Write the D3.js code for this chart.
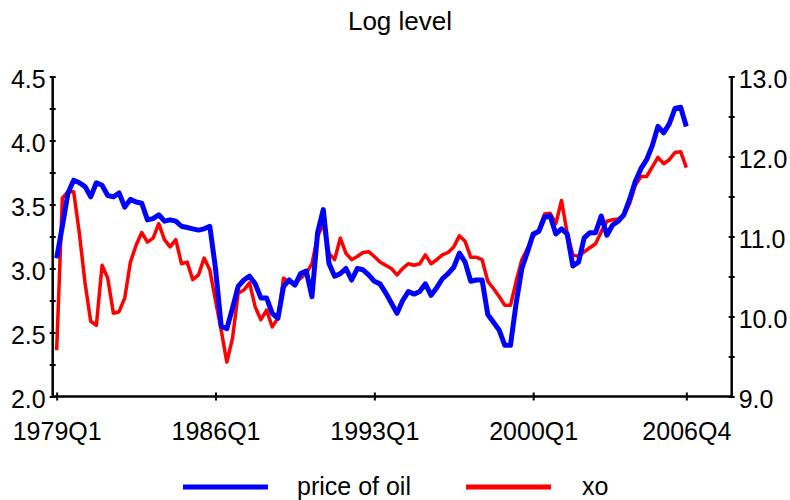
<!DOCTYPE html>
<html>
<head>
<meta charset="utf-8">
<script src="https://cdn.jsdelivr.net/npm/d3@7"></script>
<style>
  body { margin: 0; background: #fff; }
  text { font-family: "Liberation Sans", Arial, sans-serif; fill: #000; }
</style>
</head>
<body>
<div id="chart"></div>
<script>
// quarterly categories 1979Q1 .. 2006Q4
const quarters = [];
for (let y = 1979; y <= 2006; y++) for (let q = 1; q <= 4; q++) quarters.push(y + "Q" + q);

const tickLabels = ["1979Q1", "1986Q1", "1993Q1", "2000Q1", "2006Q4"];

// price of oil (left axis)
const oil = [
  3.08, 3.33, 3.59, 3.69, 3.67, 3.64, 3.56, 3.67, 3.65, 3.57,
  3.56, 3.59, 3.48, 3.54, 3.52, 3.51, 3.38, 3.39, 3.42, 3.37,
  3.38, 3.37, 3.33, 3.32, 3.31, 3.30, 3.31, 3.33, 3.00, 2.55,
  2.53, 2.69, 2.86, 2.91, 2.94, 2.88, 2.77, 2.77, 2.65, 2.61,
  2.86, 2.91, 2.87, 2.96, 2.98, 2.78, 3.28, 3.46, 3.04, 2.94,
  2.96, 3.00, 2.91, 3.00, 2.99, 2.95, 2.90, 2.88, 2.81, 2.73,
  2.65, 2.75, 2.82, 2.80, 2.82, 2.88, 2.79, 2.85, 2.92, 2.96,
  3.01, 3.12, 3.05, 2.90, 2.91, 2.91, 2.64, 2.58, 2.52, 2.40,
  2.40, 2.73, 3.00, 3.13, 3.27, 3.29, 3.40, 3.41, 3.27, 3.31,
  3.27, 3.02, 3.05, 3.24, 3.28, 3.28, 3.41, 3.26, 3.34, 3.37,
  3.42, 3.54, 3.68, 3.78, 3.85, 3.96, 4.11, 4.06, 4.13, 4.25,
  4.26, 4.11
];

// xo (right axis)
const xo = [
  9.58, 11.48, 11.56, 11.56, 11.04, 10.42, 9.94, 9.89, 10.64, 10.48,
  10.04, 10.06, 10.23, 10.68, 10.89, 11.05, 10.93, 10.98, 11.16, 10.96,
  10.87, 10.96, 10.66, 10.68, 10.46, 10.52, 10.73, 10.58, 10.20, 9.83,
  9.43, 9.73, 10.29, 10.33, 10.42, 10.12, 9.96, 10.08, 9.87, 9.98,
  10.48, 10.43, 10.42, 10.48, 10.54, 10.66, 11.00, 11.16, 10.79, 10.71,
  10.98, 10.79, 10.71, 10.75, 10.80, 10.81, 10.75, 10.68, 10.64, 10.60,
  10.52, 10.60, 10.66, 10.64, 10.66, 10.77, 10.66, 10.71, 10.77, 10.80,
  10.87, 11.01, 10.94, 10.74, 10.74, 10.71, 10.44, 10.35, 10.25, 10.14,
  10.14, 10.44, 10.71, 10.85, 11.00, 11.08, 11.28, 11.29, 11.16, 11.45,
  11.04, 10.77, 10.75, 10.81, 10.86, 10.91, 11.06, 11.19, 11.21, 11.22,
  11.27, 11.41, 11.64, 11.75, 11.75, 11.87, 11.99, 11.91, 11.96, 12.05,
  12.06, 11.86
];

const leftTicks = [2.0, 2.25, 2.5, 2.75, 3.0, 3.25, 3.5, 3.75, 4.0, 4.25, 4.5];
const rightTicks = [9.0, 9.5, 10.0, 10.5, 11.0, 11.5, 12.0, 12.5, 13.0];
const seriesNames = ["price of oil", "xo"];
const seriesColors = ["#0000ff", "#ff0000"];

const width = 790, height = 500;
const plotLeft = 52.7, plotRight = 731.7, plotTop = 76.5, plotBottom = 396.5;

const svg = d3.select("#chart").append("svg")
  .attr("width", width)
  .attr("height", height);

// x runs a bit past the last quarter, as in the original
const x = d3.scaleLinear().domain([-0.7, 119]).range([plotLeft, plotRight]);
const yL = d3.scaleLinear().domain([2, 4.5]).range([plotBottom, plotTop]);
const yR = d3.scaleLinear().domain([9, 13]).range([plotBottom, plotTop]);

svg.append("text")
  .attr("x", 400).attr("y", 30)
  .attr("text-anchor", "middle")
  .style("font-size", "26px")
  .text("Log level");

// Left axis
const gL = svg.append("g")
  .attr("transform", "translate(" + plotLeft + ",0)")
  .call(d3.axisLeft(yL).tickValues(leftTicks).tickSize(3)
    .tickFormat(d => (Math.round(d * 4) % 2 === 0) ? d3.format(".1f")(d) : ""));

// Right axis
const gR = svg.append("g")
  .attr("transform", "translate(" + plotRight + ",0)")
  .call(d3.axisRight(yR).tickValues(rightTicks).tickSize(3)
    .tickFormat(d => Number.isInteger(d) ? d3.format(".1f")(d) : ""));

// Bottom axis
const tickIdx = tickLabels.map(t => quarters.indexOf(t));
const gB = svg.append("g")
  .attr("transform", "translate(0," + plotBottom + ")")
  .call(d3.axisBottom(x).tickValues(tickIdx).tickSize(4)
    .tickFormat(d => quarters[d]));

[gL, gR].forEach(g => {
  g.select(".domain").attr("d", "M0," + plotTop + "V" + plotBottom)
    .attr("stroke", "#000").attr("stroke-width", 2.5);
  g.selectAll(".tick line").attr("x1", -3).attr("x2", 3)
    .attr("stroke", "#000").attr("stroke-width", 2);
});
gB.select(".domain").attr("d", "M" + plotLeft + ",0H" + plotRight)
  .attr("stroke", "#000").attr("stroke-width", 2.5);
gB.selectAll(".tick line").attr("y1", -4).attr("y2", 4)
  .attr("stroke", "#000").attr("stroke-width", 2);

svg.selectAll(".tick text").style("font-size", "25px")
  .attr("font-family", null);
gL.selectAll(".tick text").attr("x", -7).attr("dy", "0.42em");
gR.selectAll(".tick text").attr("x", 7).attr("dy", "0.42em");
gB.selectAll(".tick text").attr("y", 23).attr("dy", "0.82em");

// Lines: red first, blue on top
const lineR = d3.line().x((d, i) => x(i)).y(d => yR(d));
const lineL = d3.line().x((d, i) => x(i)).y(d => yL(d));

svg.append("path")
  .datum(xo)
  .attr("fill", "none")
  .attr("stroke", seriesColors[1])
  .attr("stroke-width", 3.5)
  .attr("stroke-linejoin", "round")
  .attr("d", lineR);

svg.append("path")
  .datum(oil)
  .attr("fill", "none")
  .attr("stroke", seriesColors[0])
  .attr("stroke-width", 5)
  .attr("stroke-linejoin", "round")
  .attr("d", lineL);

// Legend
const legendX = [183, 466];
const leg = svg.selectAll(".legend")
  .data(seriesNames)
  .enter().append("g")
  .attr("transform", (d, i) => "translate(" + legendX[i] + ",487)");
leg.append("line")
  .attr("x1", 0).attr("x2", 85)
  .attr("stroke", (d, i) => seriesColors[i])
  .attr("stroke-width", 5);
leg.append("text")
  .attr("x", (d, i) => i === 0 ? 114 : 116)
  .attr("y", 8)
  .style("font-size", "25px")
  .text(d => d);
</script>
</body>
</html>
